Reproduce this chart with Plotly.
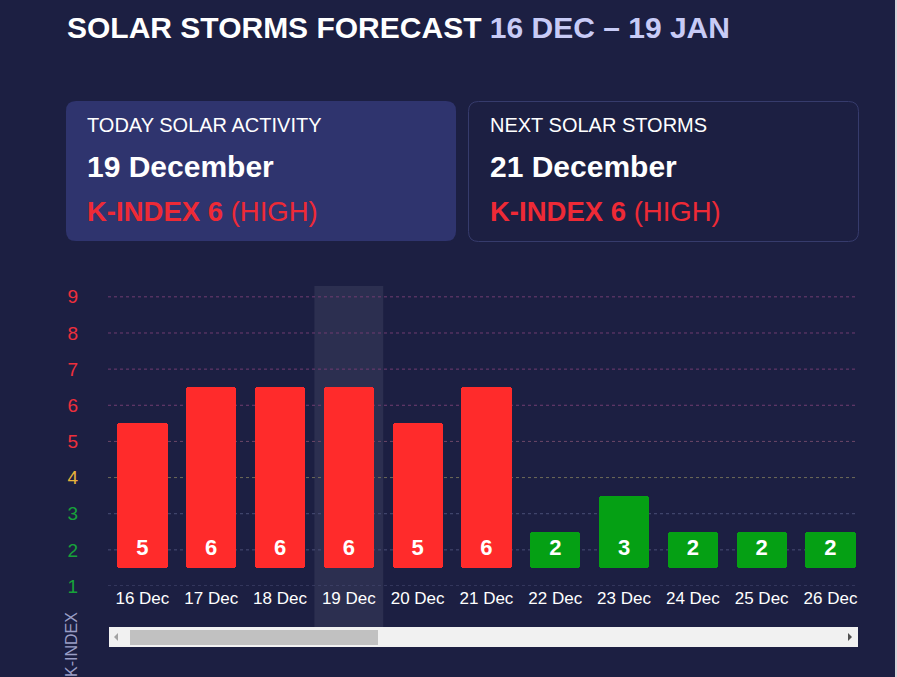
import plotly.graph_objects as go

# visible window of the forecast (16 Dec - 26 Dec)
days = ["16 Dec", "17 Dec", "18 Dec", "19 Dec", "20 Dec", "21 Dec",
        "22 Dec", "23 Dec", "24 Dec", "25 Dec", "26 Dec"]
kindex = [5, 6, 6, 6, 5, 6, 2, 3, 2, 2, 2]
today = "19 Dec"
levels = [1, 2, 3, 4, 5, 6, 7, 8, 9]

BG = "#1c1f42"
RED = "#ff2b2b"
GREEN = "#05a014"
FONT = "Liberation Sans, Arial, sans-serif"

W, H = 897, 677
ML, MR, MT, MB = 108, 39, 286, 91
PW, PH = W - ML - MR, H - MT - MB


def px(x):
    return (x - ML) / PW


def py(y):
    return (H - MB - y) / PH


def level_color(k):
    if k >= 5:
        return "#ee2f3c"
    if k == 4:
        return "#e8b33a"
    return "#17a23a"


def grid_color(k):
    if k >= 6:
        return "#703c70"
    if k == 5:
        return "#6c4868"
    if k == 4:
        return "#6e6a58"
    return "#4a4e76"


def rounded(x0, y0, x1, y1, r):
    # rounded rectangle path in paper units from pixel corners
    a, b, c, d = px(x0), px(x1), py(y0), py(y1)
    rx, ry = r / PW, r / PH
    return (f"M {a+rx},{c} L {b-rx},{c} Q {b},{c} {b},{c-ry} "
            f"L {b},{d+ry} Q {b},{d} {b-rx},{d} L {a+rx},{d} "
            f"Q {a},{d} {a},{d+ry} L {a},{c-ry} Q {a},{c} {a+rx},{c} Z")


colors = [RED if k >= 5 else GREEN for k in kindex]
base = 1.5

fig = go.Figure()
fig.add_trace(go.Bar(
    x=days, y=[k - 1 for k in kindex], base=base, width=0.73,
    marker=dict(color=colors, line=dict(width=0), cornerradius=3),
    hoverinfo="skip",
))
fig.add_trace(go.Scatter(
    x=days, y=[base + 0.5] * len(days), mode="text",
    text=[f"<b>{k}</b>" for k in kindex],
    textfont=dict(color="white", size=22, family=FONT),
    hoverinfo="skip",
))

shapes = []
# today highlight band
ti = days.index(today)
shapes.append(dict(type="rect", xref="x", yref="paper", x0=ti - 0.5, x1=ti + 0.5,
                   y0=py(627), y1=1, fillcolor="rgba(255,255,255,0.075)",
                   line=dict(width=0), layer="below"))
# dashed grid lines, coloured by level
for k in levels:
    shapes.append(dict(type="line", xref="paper", yref="y", x0=0, x1=1, y0=k, y1=k,
                       line=dict(color=grid_color(k), width=1, dash="3px,3px"),
                       layer="below"))
# info cards
shapes.append(dict(type="path", xref="paper", yref="paper",
                   path=rounded(66, 101, 456, 241, 10),
                   fillcolor="#2f346e", line=dict(width=0)))
shapes.append(dict(type="path", xref="paper", yref="paper",
                   path=rounded(468.5, 101.5, 858.5, 241.5, 10),
                   fillcolor=BG, line=dict(color="#363b6c", width=1)))
# scrollbar
shapes.append(dict(type="rect", xref="paper", yref="paper", x0=px(109), x1=px(858),
                   y0=py(647), y1=py(627), fillcolor="#f1f1f1", line=dict(width=0)))
shapes.append(dict(type="rect", xref="paper", yref="paper", x0=px(130), x1=px(378),
                   y0=py(645), y1=py(630), fillcolor="#c1c1c1", line=dict(width=0)))
shapes.append(dict(type="path", xref="paper", yref="paper",
                   path=f"M {px(118)},{py(633)} L {px(118)},{py(641)} L {px(114)},{py(637)} Z",
                   fillcolor="#a3a3a3", line=dict(width=0)))
shapes.append(dict(type="path", xref="paper", yref="paper",
                   path=f"M {px(848)},{py(633)} L {px(848)},{py(641)} L {px(852)},{py(637)} Z",
                   fillcolor="#505050", line=dict(width=0)))
# page edge
shapes.append(dict(type="rect", xref="paper", yref="paper", x0=px(895), x1=px(897),
                   y0=py(677), y1=py(0), fillcolor="#d4d4d8", line=dict(width=0)))

annotations = [
    dict(text="<b>SOLAR STORMS FORECAST <span style='color:#c8cbf6'>16 DEC – 19 JAN</span></b>",
         x=px(65), y=py(27), font=dict(size=30, color="white", family=FONT)),
    dict(text="TODAY SOLAR ACTIVITY", x=px(85), y=py(125),
         font=dict(size=20, color="white", family=FONT)),
    dict(text="<b>19 December</b>", x=px(85), y=py(166),
         font=dict(size=30, color="white", family=FONT)),
    dict(text="<b>K-INDEX 6</b> (HIGH)", x=px(85), y=py(211),
         font=dict(size=27.5, color="#ee2a36", family=FONT)),
    dict(text="NEXT SOLAR STORMS", x=px(488), y=py(125),
         font=dict(size=20, color="white", family=FONT)),
    dict(text="<b>21 December</b>", x=px(488), y=py(166),
         font=dict(size=30, color="white", family=FONT)),
    dict(text="<b>K-INDEX 6</b> (HIGH)", x=px(488), y=py(211),
         font=dict(size=27.5, color="#ee2a36", family=FONT)),
]
for a in annotations:
    a.update(xref="paper", yref="paper", xanchor="left", yanchor="middle", showarrow=False)
annotations.append(dict(text="K-INDEX", xref="paper", yref="paper", x=px(71), y=py(645),
                        textangle=-90, showarrow=False, xanchor="center", yanchor="middle",
                        font=dict(size=16, color="#9a9ec6", family=FONT)))

fig.update_layout(
    width=W, height=H, autosize=False,
    margin=dict(l=ML, r=MR, t=MT, b=MB),
    paper_bgcolor=BG, plot_bgcolor=BG,
    showlegend=False, bargap=0,
    font=dict(family=FONT, color="white"),
    shapes=shapes, annotations=annotations,
    xaxis=dict(type="category", range=[-0.5, 10.4], showgrid=False, zeroline=False,
               showline=False, ticks="", tickfont=dict(size=17, color="white")),
    yaxis=dict(range=[1, 9.3], showgrid=False, zeroline=False, showline=False,
               tickvals=levels,
               ticktext=[f"<span style='color:{level_color(k)}'>{k}</span>" for k in levels],
               tickfont=dict(size=19), ticklabelstandoff=29),
)

fig.write_html("out.html", config={"displayModeBar": False},
               post_script="document.body.style.margin='0';")
